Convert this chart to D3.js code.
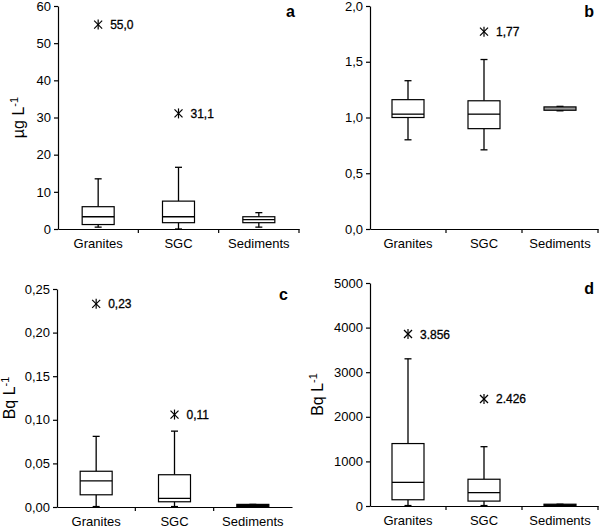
<!DOCTYPE html>
<html><head><meta charset="utf-8">
<script src="https://cdn.jsdelivr.net/npm/d3@7"></script>
<style>
body{margin:0;background:#fff;}
svg{display:block;font-family:"Liberation Sans",Arial,sans-serif;}
</style></head>
<body><svg id="c" width="609" height="528"></svg>
<script>
const categories = ["Granites","SGC","Sediments"];

// Panel a (µg L-1)
const aLow  = [0.5, 0.0, 0.5];
const aQ1   = [1.2, 1.7, 1.7];
const aMed  = [3.3, 3.3, 2.5];
const aQ3   = [6.0, 7.5, 3.3];
const aHigh = [13.5, 16.6, 4.4];
const aOutCat = ["Granites","SGC"];
const aOutVal = [55.0, 31.1];
const aOutLabel = ["55,0","31,1"];
const aTicks = [0,10,20,30,40,50,60];
const aTickLabels = ["0","10","20","30","40","50","60"];

// Panel b
const bLow  = [0.80, 0.71, 1.06];
const bQ1   = [1.00, 0.90, 1.065];
const bMed  = [1.03, 1.03, 1.08];
const bQ3   = [1.16, 1.15, 1.095];
const bHigh = [1.33, 1.52, 1.10];
const bOutCat = ["SGC"];
const bOutVal = [1.77];
const bOutLabel = ["1,77"];
const bTicks = [0,0.5,1.0,1.5,2.0];
const bTickLabels = ["0,0","0,5","1,0","1,5","2,0"];

// Panel c (Bq L-1)
const cLow  = [0.0005, 0.0005, 0.0];
const cQ1   = [0.014, 0.006, 0.0];
const cMed  = [0.030, 0.010, 0.0015];
const cQ3   = [0.041, 0.037, 0.003];
const cHigh = [0.081, 0.087, 0.003];
const cOutCat = ["Granites","SGC"];
const cOutVal = [0.233, 0.106];
const cOutLabel = ["0,23","0,11"];
const cTicks = [0,0.05,0.10,0.15,0.20,0.25];
const cTickLabels = ["0,00","0,05","0,10","0,15","0,20","0,25"];

// Panel d (Bq L-1)
const dLow  = [10, 10, 0];
const dQ1   = [140, 110, 0];
const dMed  = [530, 300, 20];
const dQ3   = [1400, 600, 40];
const dHigh = [3300, 1330, 40];
const dOutCat = ["Granites","SGC"];
const dOutVal = [3856, 2400];
const dOutLabel = ["3.856","2.426"];
const dTicks = [0,1000,2000,3000,4000,5000];
const dTickLabels = ["0","1000","2000","3000","4000","5000"];

const svg = d3.select("#c");

function panel(cfg){
  const g = svg.append("g");
  const x = d3.scaleBand().domain(categories).range([cfg.left, cfg.right]).padding(0);
  const y = d3.scaleLinear().domain(cfg.domain).range([cfg.bottom, cfg.top]);

  // y axis
  const ya = d3.axisLeft(y).tickValues(cfg.ticks).tickFormat((d,i)=>cfg.tickLabels[i]).tickSize(4).tickSizeOuter(0);
  const yg = g.append("g").attr("transform",`translate(${cfg.left},0)`).call(ya);
  yg.selectAll("text").attr("font-size",13).attr("fill","#000").attr("font-family","Liberation Sans, Arial, sans-serif").attr("x",-7);
  yg.selectAll("line,path").attr("stroke","#000").attr("stroke-width",1.2);

  // x axis
  const xa = d3.axisBottom(x).tickValues([]).tickSizeOuter(0);
  const xg = g.append("g").attr("transform",`translate(0,${cfg.bottom})`).call(xa);
  xg.select("path").attr("stroke","#000").attr("stroke-width",1.2);
  const bounds = categories.slice(1).map(c=>x(c)).concat(cfg.endTick ? [cfg.right] : []);
  xg.selectAll("line.bt").data(bounds).join("line").attr("class","bt")
    .attr("x1",d=>d).attr("x2",d=>d).attr("y1",0).attr("y2",4).attr("stroke","#000").attr("stroke-width",1.2);
  xg.selectAll("text.cl").data(categories).join("text").attr("class","cl")
    .attr("x",d=>x(d)+x.bandwidth()/2).attr("y",19).attr("text-anchor","middle")
    .attr("font-size",13).attr("fill","#000").text(d=>d);

  // boxes
  const bw = 32, cap = 7;
  categories.forEach((c,i)=>{
    const cx = x(c)+x.bandwidth()/2;
    const bg = g.append("g");
    bg.append("line").attr("x1",cx).attr("x2",cx).attr("y1",y(cfg.high[i])).attr("y2",y(cfg.q3[i])).attr("stroke","#000").attr("stroke-width",1.3);
    bg.append("line").attr("x1",cx).attr("x2",cx).attr("y1",y(cfg.low[i])).attr("y2",y(cfg.q1[i])).attr("stroke","#000").attr("stroke-width",1.3);
    bg.append("line").attr("x1",cx-cap/2).attr("x2",cx+cap/2).attr("y1",y(cfg.high[i])).attr("y2",y(cfg.high[i])).attr("stroke","#000").attr("stroke-width",1.3);
    bg.append("line").attr("x1",cx-cap/2).attr("x2",cx+cap/2).attr("y1",y(cfg.low[i])).attr("y2",y(cfg.low[i])).attr("stroke","#000").attr("stroke-width",1.3);
    const fill = cfg.fills[i];
    const h = Math.max(y(cfg.q1[i])-y(cfg.q3[i]), 1);
    bg.append("rect").attr("x",cx-bw/2).attr("width",bw).attr("y",y(cfg.q3[i])).attr("height",h)
      .attr("fill",fill).attr("stroke","#000").attr("stroke-width",1.2);
    if (fill === "#fff")
      bg.append("line").attr("x1",cx-bw/2).attr("x2",cx+bw/2).attr("y1",y(cfg.med[i])).attr("y2",y(cfg.med[i])).attr("stroke","#000").attr("stroke-width",1.3);
  });

  // outliers
  cfg.outCat.forEach((c,i)=>{
    const cx = x(c)+x.bandwidth()/2, cy = y(cfg.outVal[i]);
    const s = 4;
    const og = g.append("g").attr("stroke","#000").attr("stroke-width",1.2);
    og.append("line").attr("x1",cx-s).attr("x2",cx+s).attr("y1",cy-s).attr("y2",cy+s);
    og.append("line").attr("x1",cx-s).attr("x2",cx+s).attr("y1",cy+s).attr("y2",cy-s);
    og.append("line").attr("x1",cx).attr("x2",cx).attr("y1",cy-s-1).attr("y2",cy+s+1);
    g.append("text").attr("x",cx+12).attr("y",cy+4.5).attr("font-size",12)
      .attr("fill","#000").attr("stroke","#000").attr("stroke-width",0.3).text(cfg.outLabel[i]);
  });

  // panel letter
  g.append("text").attr("x",cfg.right-4).attr("y",cfg.top+11).attr("text-anchor","end")
    .attr("font-size",16).attr("font-weight","bold").attr("fill","#000").text(cfg.letter);

  // y title
  if (cfg.unit){
    const t = g.append("text").attr("transform",`translate(${cfg.titleX},${(cfg.top+cfg.bottom)/2}) rotate(-90)`)
      .attr("text-anchor","middle").attr("font-size",16).attr("fill","#000");
    t.append("tspan").text(cfg.unit);
    t.append("tspan").attr("dy",-6).attr("font-size",11).text("-1");
  }
}

panel({left:58,right:299,top:6,bottom:229,domain:[0,60],ticks:aTicks,tickLabels:aTickLabels,
  low:aLow,q1:aQ1,med:aMed,q3:aQ3,high:aHigh,outCat:aOutCat,outVal:aOutVal,outLabel:aOutLabel,
  fills:["#fff","#fff","#fff"],letter:"a",unit:"µg L",titleX:24,endTick:true});
panel({left:370,right:598,top:6,bottom:229,domain:[0,2],ticks:bTicks,tickLabels:bTickLabels,
  low:bLow,q1:bQ1,med:bMed,q3:bQ3,high:bHigh,outCat:bOutCat,outVal:bOutVal,outLabel:bOutLabel,
  fills:["#fff","#fff","#999"],letter:"b",unit:null,endTick:true});
panel({left:57,right:292,top:289,bottom:507,domain:[0,0.25],ticks:cTicks,tickLabels:cTickLabels,
  low:cLow,q1:cQ1,med:cMed,q3:cQ3,high:cHigh,outCat:cOutCat,outVal:cOutVal,outLabel:cOutLabel,
  fills:["#fff","#fff","#000"],letter:"c",unit:"Bq L",titleX:15,endTick:false});
panel({left:370,right:598,top:283,bottom:506,domain:[0,5000],ticks:dTicks,tickLabels:dTickLabels,
  low:dLow,q1:dQ1,med:dMed,q3:dQ3,high:dHigh,outCat:dOutCat,outVal:dOutVal,outLabel:dOutLabel,
  fills:["#fff","#fff","#000"],letter:"d",unit:"Bq L",titleX:323,endTick:true});
</script></body></html>
